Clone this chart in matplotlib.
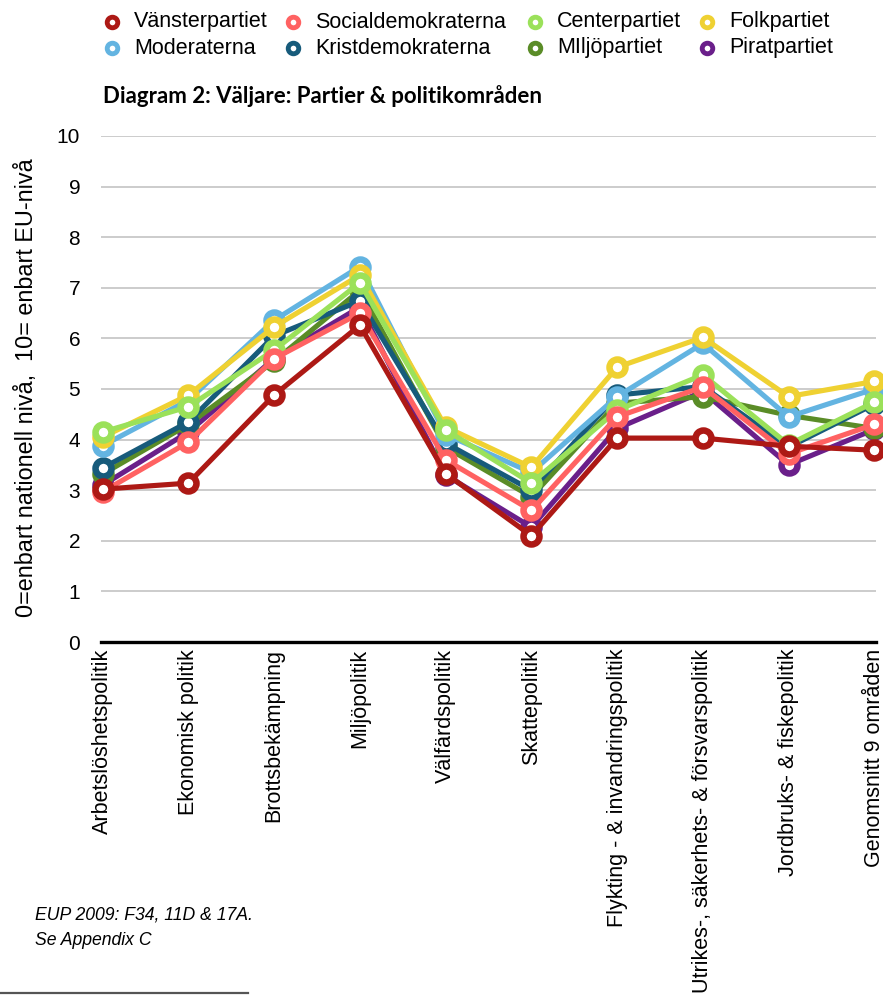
import matplotlib
matplotlib.use("Agg")
import matplotlib.pyplot as plt
from matplotlib.lines import Line2D

categories = ['Arbetslöshetspolitik', 'Ekonomisk politik', 'Brottsbekämpning', 'Miljöpolitik',
              'Välfärdspolitik', 'Skattepolitik', 'Flykting - & invandringspolitik',
              'Utrikes-, säkerhets- & försvarspolitik', 'Jordbruks- & fiskepolitik',
              'Genomsnitt 9 områden']

parties = ['Vänsterpartiet', 'Socialdemokraterna', 'Centerpartiet', 'Folkpartiet',
           'Moderaterna', 'Kristdemokraterna', 'MIljöpartiet', 'Piratpartiet']
colors = ['#AD1915', '#FF6262', '#9BE15A', '#EFD132', '#63B4E1', '#175B7B', '#5A8C27', '#6A1F8A']

v_vals  = [3.02, 3.14, 4.88, 6.26, 3.33, 2.10, 4.03, 4.03, 3.87, 3.79]
s_vals  = [2.97, 3.95, 5.60, 6.50, 3.60, 2.60, 4.45, 5.04, 3.72, 4.30]
c_vals  = [4.15, 4.65, 5.77, 7.10, 4.19, 3.14, 4.58, 5.28, 3.90, 4.74]
fp_vals = [4.05, 4.88, 6.23, 7.25, 4.25, 3.45, 5.43, 6.02, 4.85, 5.15]
m_vals  = [3.88, 4.78, 6.36, 7.42, 4.10, 3.35, 4.85, 5.90, 4.45, 5.00]
kd_vals = [3.44, 4.35, 6.05, 6.74, 3.93, 3.00, 4.88, 5.05, 3.85, 4.70]
mp_vals = [3.32, 4.30, 5.55, 6.95, 3.85, 2.87, 4.72, 4.85, 4.48, 4.22]
pp_vals = [3.10, 4.15, 5.60, 6.62, 3.30, 2.27, 4.22, 4.95, 3.50, 4.20]
series = [v_vals, s_vals, c_vals, fp_vals, m_vals, kd_vals, mp_vals, pp_vals]

plt.rcParams['font.family'] = ['Liberation Sans', 'DejaVu Sans']

W, H = 883, 997
fig = plt.figure(figsize=(W / 100, H / 100), dpi=100)
ax = fig.add_axes([101 / W, (H - 642) / H, (876 - 101) / W, (642 - 136) / H])

x = list(range(len(categories)))
n = len(series)
for i, (vals, col, name) in enumerate(zip(series, colors, parties)):
    ax.plot(x, vals, color=col, lw=3.7, marker='o', ms=11.5, mfc='white', mec=col,
            mew=4.7, zorder=10 + (n - i), clip_on=False, solid_capstyle='round')

ax.set_xlim(-0.02, 9.02)
ax.set_ylim(0, 10)
ax.set_yticks(range(0, 11))
ax.set_xticks(x)
ax.set_xticklabels(categories, rotation=90, fontsize=15.5, va='top', ha='center')
ax.tick_params(axis='y', length=0, pad=15, labelsize=15)
ax.tick_params(axis='x', length=0, pad=5)
ax.grid(axis='y', color='#C8C8C8', lw=1.3)
ax.set_axisbelow(True)
for sp in ['top', 'right', 'left']:
    ax.spines[sp].set_visible(False)
ax.spines['bottom'].set_color('black')
ax.spines['bottom'].set_linewidth(2.4)
ax.spines['bottom'].set_zorder(5)

fig.text(27 / W, 1 - 388 / H, '0=enbart nationell nivå,  10= enbart EU-nivå', rotation=90,
         ha='center', va='center', fontsize=16.8)

# legend laid out row by row, four columns
col_x = [112, 293, 535, 707]
row_y = [22, 48]
for k, (name, col) in enumerate(zip(parties, colors)):
    r, c = divmod(k, 4)
    mx, my = col_x[c] / W, 1 - row_y[r] / H
    fig.add_artist(Line2D([mx], [my], ls='none', marker='o', ms=7.6, mfc='white', mec=col,
                          mew=3.5))
    fig.text(mx + 22 / W, my, name, fontsize=15.5, va='center', ha='left')

fig.text(103 / W, 1 - 96 / H, 'Diagram 2: Väljare: Partier & politikområden',
         fontsize=16, fontweight='bold', family=['Lato', 'DejaVu Sans'], va='center', ha='left')

fig.text(35 / W, 1 - 915 / H, 'EUP 2009: F34, 11D & 17A.', fontsize=12.7, style='italic',
         va='center', ha='left')
fig.text(35 / W, 1 - 940 / H, 'Se Appendix C', fontsize=12.7, style='italic',
         va='center', ha='left')
fig.add_artist(Line2D([0, 248 / W], [1 - 993 / H, 1 - 993 / H], color='#555555', lw=1.6))

fig.savefig('out.png', dpi=100)
